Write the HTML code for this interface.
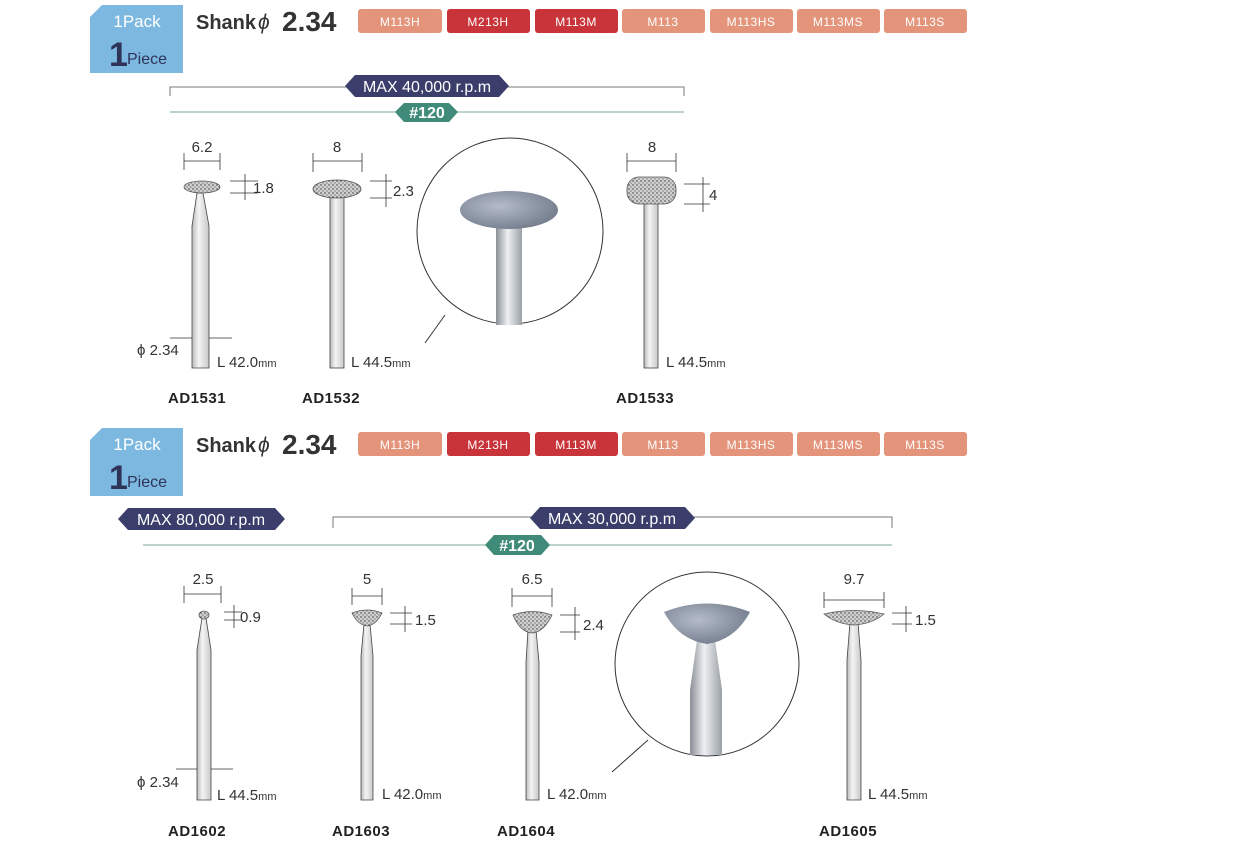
<!DOCTYPE html>
<html><head><meta charset="utf-8"><style>
body{margin:0;background:#fff;}
svg{display:block;font-family:"Liberation Sans Narrow","Liberation Sans",sans-serif;}
.dim{font-family:"Liberation Sans",sans-serif;font-size:15px;fill:#333;}
.lab{font-family:"Liberation Sans",sans-serif;font-size:15px;font-weight:bold;fill:#222;letter-spacing:0.5px}
.tag{font-size:12px;fill:#fff;text-anchor:middle;letter-spacing:0.5px}
.dl{stroke:#333;stroke-width:0.8;fill:none}
.sh{fill:url(#shg);stroke:#444;stroke-width:0.8}
.hd{fill:url(#dots);stroke:#555;stroke-width:0.8}
</style></head><body>
<svg width="1243" height="843" viewBox="0 0 1243 843" xmlns="http://www.w3.org/2000/svg">
<defs>
<pattern id="dots" width="4" height="4" patternUnits="userSpaceOnUse">
<rect width="4" height="4" fill="#cfcfcf"/><circle cx="1" cy="1" r="0.7" fill="#333"/><circle cx="3" cy="3" r="0.6" fill="#555"/>
</pattern>
<linearGradient id="shg" x1="0" x2="1"><stop offset="0" stop-color="#bbb"/><stop offset="0.4" stop-color="#f4f4f4"/><stop offset="1" stop-color="#c8c8c8"/></linearGradient>
<linearGradient id="bigsh" x1="0" x2="1"><stop offset="0" stop-color="#8a8f96"/><stop offset="0.45" stop-color="#eef0f2"/><stop offset="1" stop-color="#9aa0a6"/></linearGradient>
<radialGradient id="stone" cx="0.4" cy="0.4" r="0.7"><stop offset="0" stop-color="#b4bccb"/><stop offset="1" stop-color="#6f7888"/></radialGradient>
</defs>

<!-- ===== SECTION 1 ===== -->
<g id="s1">
<path d="M102 5 H183 V73 H90 V17 Z" fill="#7db8e0"/>
<text x="137" y="27" font-size="17" fill="#fff" text-anchor="middle">1Pack</text>
<text x="109" y="66" font-size="34" font-weight="bold" fill="#2e3358">1</text>
<text x="127" y="64" font-size="16" fill="#2e3358">Piece</text>
<text x="196" y="29" font-size="20" font-weight="bold" fill="#333">Shank</text>
<text x="258" y="29" font-size="21" font-style="italic" fill="#333">ϕ</text>
<text x="282" y="31" font-size="28" font-weight="bold" fill="#333">2.34</text>
<g>
<rect x="358" y="9" width="84" height="24" rx="3" fill="#e3947a"/><text class="tag" x="400" y="26">M113H</text>
<rect x="447" y="9" width="83" height="24" rx="3" fill="#c8343a"/><text class="tag" x="488" y="26">M213H</text>
<rect x="535" y="9" width="83" height="24" rx="3" fill="#c8343a"/><text class="tag" x="576" y="26">M113M</text>
<rect x="622" y="9" width="83" height="24" rx="3" fill="#e3947a"/><text class="tag" x="663" y="26">M113</text>
<rect x="710" y="9" width="83" height="24" rx="3" fill="#e3947a"/><text class="tag" x="751" y="26">M113HS</text>
<rect x="797" y="9" width="83" height="24" rx="3" fill="#e3947a"/><text class="tag" x="838" y="26">M113MS</text>
<rect x="884" y="9" width="83" height="24" rx="3" fill="#e3947a"/><text class="tag" x="925" y="26">M113S</text>
</g>
<path d="M170 96 V87 H684 V96" stroke="#777" fill="none"/>
<line x1="170" y1="112" x2="684" y2="112" stroke="#7aa898"/>
<path d="M345 86 L355 75 H499 L509 86 L499 97 H355 Z" fill="#3b3e6b"/>
<text x="427" y="92" font-size="16" fill="#fff" text-anchor="middle">MAX 40,000 r.p.m</text>
<path d="M395 112 L404 103 H449 L458 112 L449 122 H404 Z" fill="#3f8a78"/>
<text x="427" y="118" font-size="16" font-weight="bold" fill="#fff" text-anchor="middle">#120</text>

<!-- AD1531 -->
<path class="dl" d="M184 153V170 M220 153V170 M184 161H220"/>
<text class="dim" x="202" y="152" text-anchor="middle">6.2</text>
<path class="sh" d="M197 193 L203 193 L209 226 V368 H192 V226 Z"/>
<ellipse class="hd" cx="202" cy="187" rx="18" ry="6"/>
<path class="dl" d="M230 181H258 M230 193H258 M245 174V200"/>
<text class="dim" x="253" y="193">1.8</text>
<path class="dl" d="M170 338H192 M209 338H232"/>
<text class="dim" x="137" y="355">ϕ 2.34</text>
<text class="dim" x="217" y="367">L 42.0<tspan font-size="11">mm</tspan></text>
<text class="lab" x="168" y="403">AD1531</text>

<!-- AD1532 -->
<path class="dl" d="M313 153V172 M362 153V172 M313 161H362"/>
<text class="dim" x="337" y="152" text-anchor="middle">8</text>
<rect class="sh" x="330" y="195" width="14" height="173"/>
<ellipse class="hd" cx="337" cy="189" rx="24" ry="9"/>
<path class="dl" d="M370 181H392 M370 198H392 M386 174V207"/>
<text class="dim" x="393" y="196">2.3</text>
<text class="dim" x="351" y="367">L 44.5<tspan font-size="11">mm</tspan></text>
<text class="lab" x="302" y="403">AD1532</text>

<!-- magnifier 1 -->
<circle cx="510" cy="231" r="93" fill="#fff" stroke="#333" stroke-width="1"/>
<rect x="496" y="220" width="26" height="105" fill="url(#bigsh)"/>
<ellipse cx="509" cy="210" rx="49" ry="19" fill="url(#stone)"/>
<line x1="445" y1="315" x2="425" y2="343" stroke="#333"/>

<!-- AD1533 -->
<path class="dl" d="M627 153V172 M676 153V172 M627 161H676"/>
<text class="dim" x="652" y="152" text-anchor="middle">8</text>
<rect class="sh" x="644" y="200" width="14" height="168"/>
<rect class="hd" x="627" y="177" width="49" height="27" rx="12"/>
<path class="dl" d="M684 184H710 M684 204H710 M703 177V212"/>
<text class="dim" x="709" y="200">4</text>
<text class="dim" x="666" y="367">L 44.5<tspan font-size="11">mm</tspan></text>
<text class="lab" x="616" y="403">AD1533</text>
</g>

<!-- ===== SECTION 2 ===== -->
<g>
<path d="M102 428 H183 V496 H90 V440 Z" fill="#7db8e0"/>
<text x="137" y="450" font-size="17" fill="#fff" text-anchor="middle">1Pack</text>
<text x="109" y="489" font-size="34" font-weight="bold" fill="#2e3358">1</text>
<text x="127" y="487" font-size="16" fill="#2e3358">Piece</text>
<text x="196" y="452" font-size="20" font-weight="bold" fill="#333">Shank</text>
<text x="258" y="452" font-size="21" font-style="italic" fill="#333">ϕ</text>
<text x="282" y="454" font-size="28" font-weight="bold" fill="#333">2.34</text>
<rect x="358" y="432" width="84" height="24" rx="3" fill="#e3947a"/><text class="tag" x="400" y="449">M113H</text>
<rect x="447" y="432" width="83" height="24" rx="3" fill="#c8343a"/><text class="tag" x="488" y="449">M213H</text>
<rect x="535" y="432" width="83" height="24" rx="3" fill="#c8343a"/><text class="tag" x="576" y="449">M113M</text>
<rect x="622" y="432" width="83" height="24" rx="3" fill="#e3947a"/><text class="tag" x="663" y="449">M113</text>
<rect x="710" y="432" width="83" height="24" rx="3" fill="#e3947a"/><text class="tag" x="751" y="449">M113HS</text>
<rect x="797" y="432" width="83" height="24" rx="3" fill="#e3947a"/><text class="tag" x="838" y="449">M113MS</text>
<rect x="884" y="432" width="83" height="24" rx="3" fill="#e3947a"/><text class="tag" x="925" y="449">M113S</text>

<path d="M118 519 L128 508 H275 L285 519 L275 530 H128 Z" fill="#3b3e6b"/>
<text x="201" y="525" font-size="16" fill="#fff" text-anchor="middle">MAX 80,000 r.p.m</text>
<path d="M333 528 V517 H892 V528" stroke="#777" fill="none"/>
<path d="M530 518 L540 507 H685 L695 518 L685 529 H540 Z" fill="#3b3e6b"/>
<text x="612" y="524" font-size="16" fill="#fff" text-anchor="middle">MAX 30,000 r.p.m</text>
<line x1="143" y1="545" x2="892" y2="545" stroke="#7aa898"/>
<path d="M485 545 L494 535 H541 L550 545 L541 555 H494 Z" fill="#3f8a78"/>
<text x="517" y="551" font-size="16" font-weight="bold" fill="#fff" text-anchor="middle">#120</text>

<!-- AD1602 -->
<path class="dl" d="M184 586V603 M221 586V603 M184 594H221"/>
<text class="dim" x="203" y="584" text-anchor="middle">2.5</text>
<path class="sh" d="M202 618 L206 618 L211 650 V800 H197 V650 Z"/>
<ellipse class="hd" cx="204" cy="615" rx="5" ry="4"/>
<path class="dl" d="M224 612H242 M224 620H242 M234 605V628"/>
<text class="dim" x="240" y="622">0.9</text>
<path class="dl" d="M176 769H197 M211 769H233"/>
<text class="dim" x="137" y="787">ϕ 2.34</text>
<text class="dim" x="217" y="800">L 44.5<tspan font-size="11">mm</tspan></text>
<text class="lab" x="168" y="836">AD1602</text>

<!-- AD1603 -->
<path class="dl" d="M352 588V605 M382 588V605 M352 596H382"/>
<text class="dim" x="367" y="584" text-anchor="middle">5</text>
<path class="sh" d="M364 624 L370 624 L373 656 V800 H361 V656 Z"/>
<path class="hd" d="M352 613 Q367 607 382 613 Q376 625 367 626 Q358 625 352 613 Z"/>
<path class="dl" d="M390 613H412 M390 624H412 M405 606V632"/>
<text class="dim" x="415" y="625">1.5</text>
<text class="dim" x="382" y="799">L 42.0<tspan font-size="11">mm</tspan></text>
<text class="lab" x="332" y="836">AD1603</text>

<!-- AD1604 -->
<path class="dl" d="M512 588V607 M552 588V607 M512 596H552"/>
<text class="dim" x="532" y="584" text-anchor="middle">6.5</text>
<path class="sh" d="M528 630 L536 630 L539 662 V800 H526 V662 Z"/>
<path class="hd" d="M513 615 Q532 608 552 615 Q544 632 532 633 Q520 632 513 615 Z"/>
<path class="dl" d="M560 615H580 M560 632H580 M575 607V640"/>
<text class="dim" x="583" y="630">2.4</text>
<text class="dim" x="547" y="799">L 42.0<tspan font-size="11">mm</tspan></text>
<text class="lab" x="497" y="836">AD1604</text>

<!-- magnifier 2 -->
<circle cx="707" cy="664" r="92" fill="#fff" stroke="#333" stroke-width="1"/>
<path d="M697 640 L715 640 L722 690 V755 H690 V690 Z" fill="url(#bigsh)"/>
<path d="M664 612 Q707 595 750 612 Q735 640 707 644 Q679 640 664 612 Z" fill="url(#stone)"/>
<line x1="648" y1="740" x2="612" y2="772" stroke="#333"/>

<!-- AD1605 -->
<path class="dl" d="M824 592V608 M884 592V608 M824 600H884"/>
<text class="dim" x="854" y="584" text-anchor="middle">9.7</text>
<path class="sh" d="M850 622 L858 622 L861 660 V800 H847 V660 Z"/>
<path class="hd" d="M824 614 Q854 607 884 614 Q872 624 854 625 Q836 624 824 614 Z"/>
<path class="dl" d="M892 613H912 M892 624H912 M906 606V632"/>
<text class="dim" x="915" y="625">1.5</text>
<text class="dim" x="868" y="799">L 44.5<tspan font-size="11">mm</tspan></text>
<text class="lab" x="819" y="836">AD1605</text>
</g>
</svg>
</body></html>
